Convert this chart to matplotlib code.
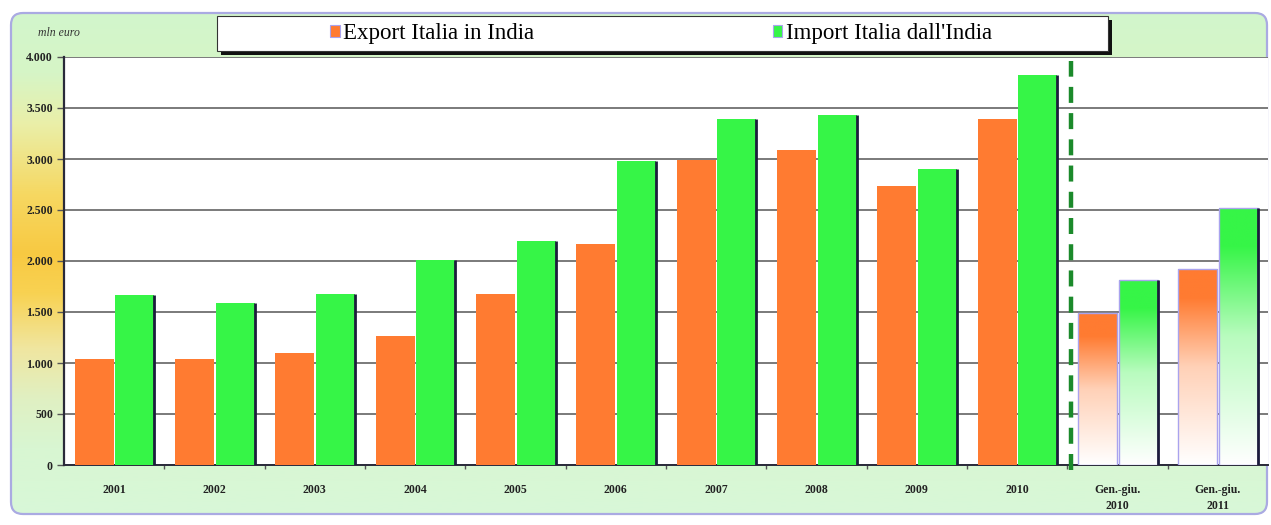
import numpy as np
import matplotlib
matplotlib.use("Agg")
import matplotlib.pyplot as plt
from matplotlib.patches import FancyBboxPatch, Rectangle
from matplotlib.colors import LinearSegmentedColormap, to_rgb

# ---- data (mln euro) ----
categories = ["2001", "2002", "2003", "2004", "2005", "2006", "2007", "2008",
              "2009", "2010", "Gen.-giu.\n2010", "Gen.-giu.\n2011"]
export_vals = [1040, 1035, 1100, 1260, 1680, 2165, 2990, 3090, 2735, 3395, 1490, 1925]
import_vals = [1670, 1590, 1675, 2010, 2195, 2985, 3395, 3430, 2905, 3820, 1810, 2520]
series_labels = ["Export Italia in India", "Import Italia dall'India"]
yticks = [0, 500, 1000, 1500, 2000, 2500, 3000, 3500, 4000]
partial_year_start = 10  # first half-year group

ORANGE = "#ff7b31"
GREEN = "#36f547"
W, H = 1271, 525

fig = plt.figure(figsize=(W / 100, H / 100), dpi=100)
fig.patch.set_facecolor("white")

# ---- background panel with vertical gradient ----
bg = fig.add_axes([0, 0, 1, 1], zorder=0)
bg.set_xlim(0, W)
bg.set_ylim(H, 0)
bg.axis("off")
stops = [(0.00, "#d2f6cc"), (0.12, "#d6f5c6"), (0.22, "#eaefa8"), (0.36, "#f6d862"),
         (0.48, "#f8c942"), (0.56, "#f8d252"), (0.67, "#f0e6a0"), (0.77, "#e0f0c2"),
         (0.87, "#d8f6d2"), (1.00, "#d8f8d8")]
cmap_bg = LinearSegmentedColormap.from_list("bg", stops)
grad = np.linspace(0, 1, 256).reshape(-1, 1)
panel = FancyBboxPatch((11, 13), 1256, 501, boxstyle="round,pad=0,rounding_size=12",
                       facecolor="none", edgecolor="#aaaae2", linewidth=1.6,
                       transform=bg.transData, zorder=3)
bg.add_patch(panel)
im = bg.imshow(grad, cmap=cmap_bg, aspect="auto", extent=[11, 1267, 514, 13], zorder=1)
im.set_clip_path(panel)

# ---- main axes ----
ax = fig.add_axes([64 / W, 1 - 465 / H, (1268 - 64) / W, (465 - 57) / H], zorder=2)
ax.set_facecolor("white")
n = len(categories)
x = np.arange(n)
bw = 0.39
ax.set_xlim(-0.5, n - 0.5)
ax.set_ylim(0, 4000)

ax.set_yticks(yticks)
ax.set_yticklabels([f"{v:,}".replace(",", ".") for v in yticks],
                   fontfamily="Liberation Serif", fontweight="bold", fontsize=8.5, color="#222222")
ax.yaxis.grid(True, color="#7a7a7a", linewidth=1.4)
ax.set_axisbelow(True)
ax.tick_params(axis="y", length=5, width=1, color="#555555", pad=3)

ax.set_xticks(x)
ax.set_xticklabels(categories, fontfamily="Liberation Serif", fontweight="bold",
                   fontsize=8.5, color="#222222", linespacing=1.45)
ax.tick_params(axis="x", length=0, pad=14)
ax.set_xticks(np.arange(n - 1) + 0.5, minor=True)
ax.tick_params(axis="x", which="minor", length=3, width=1, color="#555555")

for s in ["top", "right"]:
    ax.spines[s].set_visible(False)
ax.spines["left"].set_color("#2a2a3a")
ax.spines["left"].set_linewidth(1.6)
ax.spines["bottom"].set_color("#2a2a3a")
ax.spines["bottom"].set_linewidth(1.4)


def fade_cmap(color):
    c = to_rgb(color)
    return LinearSegmentedColormap.from_list(
        "f", [(0.0, (1, 1, 1)), (0.5, tuple(0.35 * np.array(c) + 0.65)), (0.85, c), (1.0, c)])


ex_pos = x - 0.2
im_pos = x + 0.205
for i in range(n):
    full = i < partial_year_start
    for pos, val, col in ((ex_pos[i], export_vals[i], ORANGE), (im_pos[i], import_vals[i], GREEN)):
        if full:
            ax.bar(pos, val, width=bw, color=col, edgecolor="none", zorder=3)
        else:
            bar = ax.bar(pos, val, width=bw, facecolor="none", edgecolor="#a9a3ee",
                         linewidth=1.0, zorder=4)[0]
            g = ax.imshow(grad, cmap=fade_cmap(col), aspect="auto", origin="lower",
                          extent=[pos - bw / 2, pos + bw / 2, 0, val], zorder=3)
            g.set_clip_path(bar)
    # dark shaded right edge of the import bar
    ax.vlines(im_pos[i] + bw / 2, 0, import_vals[i], color="#1c1c3c", linewidth=2.0, zorder=5)

ax.set_xlim(-0.5, n - 0.5)
ax.set_ylim(0, 4000)

# separator between full years and half-year comparison
ax.plot([partial_year_start - 0.46] * 2, [-50, 3960], color="#1b8a2b", linewidth=3.2,
        dashes=(3.6, 2.3), zorder=6, clip_on=False)

# unit label
fig.text(38 / W, 1 - 33 / H, "mln euro", fontfamily="Liberation Serif", fontstyle="italic",
         fontsize=8.5, color="#333333", va="center", ha="left")

# ---- legend box ----
lx0, ly0, lx1, ly1 = 217, 16, 1108, 51
bg.add_patch(Rectangle((lx0 + 4, ly0 + 4), lx1 - lx0, ly1 - ly0, facecolor="#111111",
                       edgecolor="none", zorder=4))
bg.add_patch(Rectangle((lx0, ly0), lx1 - lx0, ly1 - ly0, facecolor="white",
                       edgecolor="#333333", linewidth=0.8, zorder=5))
handles = [Rectangle((0, 0), 1, 1, facecolor=ORANGE, edgecolor="#a9a3ee", linewidth=0.8),
           Rectangle((0, 0), 1, 1, facecolor=GREEN, edgecolor="#a9a3ee", linewidth=0.8)]
leg = fig.legend(handles, series_labels, ncol=2, frameon=False,
                 loc="center left", bbox_to_anchor=(330 / W, 1 - 34 / H),
                 prop={"family": "Liberation Serif", "size": 16.5},
                 handlelength=0.42, handleheight=0.42, handletextpad=0.15,
                 columnspacing=10.4, borderpad=0, borderaxespad=0)
leg.set_zorder(10)

fig.savefig("out.png", dpi=100)
